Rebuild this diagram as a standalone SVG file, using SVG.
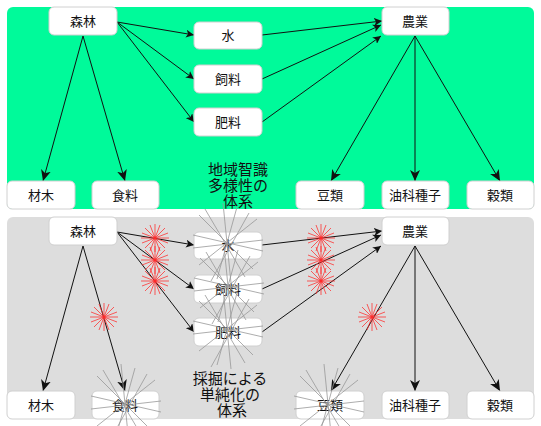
<svg xmlns="http://www.w3.org/2000/svg" xmlns:xlink="http://www.w3.org/1999/xlink" width="541" height="426" viewBox="0 0 541 426">
<style>
.node rect{fill:#fff;stroke:#d0d0d0;stroke-width:1}
.node text,.lbl{font-family:"Noto Sans CJK JP","Noto Sans",sans-serif;text-anchor:middle;fill:#111}
.node text{font-size:13px}
.lbl{font-size:15px}
.edge{stroke:#111;stroke-width:1;fill:none}
.edge.big{marker-end:url(#ab)}
.edge.sm{marker-end:url(#as)}
.red{stroke:#ff2a2a;stroke-width:1;opacity:.75;fill:none}
.gray{stroke:#999;stroke-width:1;opacity:.8;fill:none}
</style>
<defs>
<marker id="ab" markerUnits="userSpaceOnUse" markerWidth="12" markerHeight="10" viewBox="0 0 12 10" refX="11" refY="5" orient="auto"><path d="M0,0 L11,5 L0,10 L3,5 z" fill="#111"/></marker>
<marker id="as" markerUnits="userSpaceOnUse" markerWidth="9" markerHeight="8" viewBox="0 0 9 8" refX="8" refY="4" orient="auto"><path d="M0,0 L8,4 L0,8 L2,4 z" fill="#111"/></marker>
<path id="rb" class="red" d="M0,-14 L0,14 M-14,0 L14,0 M-10,-10 L10,10 M-10,10 L10,-10 M-5,-13 L5,13 M5,-13 L-5,13 M-13,-5 L13,5 M-13,5 L13,-5"/>
<path id="gb" class="gray" d="M-4,-40 L4,40 M10,-36 L-10,36 M-28,-28 L26,26 M30,-24 L-28,22 M-34,-8 L36,8 M36,-3 L-34,5 M-22,-34 L18,34 M22,-30 L-16,38"/>
</defs>
<rect x="7" y="7" width="527" height="202" rx="6" fill="#00fa9a"/>
<rect x="7" y="217" width="527" height="202" rx="6" fill="#dddddd"/>

<g id="connectors">
<line class="edge sm" x1="117" y1="22" x2="194" y2="35"/>
<line class="edge sm" x1="117" y1="22" x2="194" y2="79"/>
<line class="edge sm" x1="117" y1="22" x2="194" y2="122"/>
<line class="edge big" x1="83" y1="36" x2="43" y2="181"/>
<line class="edge big" x1="83" y1="36" x2="125" y2="181"/>
<line class="edge sm" x1="262" y1="35" x2="382" y2="21"/>
<line class="edge sm" x1="262" y1="79" x2="381" y2="25"/>
<line class="edge sm" x1="262" y1="122" x2="381" y2="36"/>
<line class="edge big" x1="415" y1="36" x2="331" y2="181"/>
<line class="edge big" x1="415" y1="36" x2="415" y2="181"/>
<line class="edge big" x1="415" y1="36" x2="500" y2="181"/>

<line class="edge sm" x1="117" y1="232" x2="194" y2="245"/>
<line class="edge sm" x1="117" y1="232" x2="194" y2="289"/>
<line class="edge sm" x1="117" y1="232" x2="194" y2="332"/>
<line class="edge big" x1="83" y1="246" x2="43" y2="391"/>
<line class="edge big" x1="83" y1="246" x2="125" y2="391"/>
<line class="edge sm" x1="262" y1="245" x2="382" y2="231"/>
<line class="edge sm" x1="262" y1="289" x2="381" y2="235"/>
<line class="edge sm" x1="262" y1="332" x2="381" y2="246"/>
<line class="edge big" x1="415" y1="246" x2="331" y2="391"/>
<line class="edge big" x1="415" y1="246" x2="415" y2="391"/>
<line class="edge big" x1="415" y1="246" x2="500" y2="391"/>
</g>

<g id="n-forest"><g class="node"><rect x="49" y="7" width="68" height="28" rx="5"/><text x="83" y="26">森林</text></g></g>
<g id="n-water"><g class="node"><rect x="194" y="22" width="68" height="27" rx="5"/><text x="228" y="40">水</text></g></g>
<g id="n-feed"><g class="node"><rect x="194" y="65" width="68" height="28" rx="5"/><text x="228" y="84">飼料</text></g></g>
<g id="n-fert"><g class="node"><rect x="194" y="108" width="68" height="28" rx="5"/><text x="228" y="127">肥料</text></g></g>
<g id="n-timber"><g class="node"><rect x="7" y="181" width="68" height="28" rx="5"/><text x="41" y="200">材木</text></g></g>
<g id="n-food"><g class="node"><rect x="92" y="181" width="67" height="28" rx="5"/><text x="125" y="200">食料</text></g></g>
<g id="n-agri"><g class="node"><rect x="382" y="7" width="67" height="28" rx="5"/><text x="415" y="26">農業</text></g></g>
<g id="n-beans"><g class="node"><rect x="296" y="181" width="68" height="28" rx="5"/><text x="330" y="200">豆類</text></g></g>
<g id="n-oil"><g class="node"><rect x="382" y="181" width="67" height="28" rx="5"/><text x="415" y="200">油科種子</text></g></g>
<g id="n-grain"><g class="node"><rect x="467" y="181" width="67" height="28" rx="5"/><text x="500" y="200">穀類</text></g></g>
<g id="l-top"><text class="lbl" x="238" y="175">地域智識</text><text class="lbl" x="238" y="191">多様性の</text><text class="lbl" x="238" y="207">体系</text></g>

<g id="n-forest2"><g class="node"><rect x="49" y="217" width="68" height="28" rx="5"/><text x="83" y="236">森林</text></g></g>
<g id="n-water2"><g class="node"><rect x="194" y="232" width="68" height="27" rx="5"/><text x="228" y="250">水</text></g></g>
<g id="n-feed2"><g class="node"><rect x="194" y="275" width="68" height="28" rx="5"/><text x="228" y="294">飼料</text></g></g>
<g id="n-fert2"><g class="node"><rect x="194" y="318" width="68" height="28" rx="5"/><text x="228" y="337">肥料</text></g></g>
<g id="n-timber2"><g class="node"><rect x="7" y="391" width="68" height="28" rx="5"/><text x="41" y="410">材木</text></g></g>
<g id="n-food2"><g class="node"><rect x="92" y="391" width="67" height="28" rx="5"/><text x="125" y="410">食料</text></g></g>
<g id="n-agri2"><g class="node"><rect x="382" y="217" width="67" height="28" rx="5"/><text x="415" y="236">農業</text></g></g>
<g id="n-beans2"><g class="node"><rect x="296" y="391" width="68" height="28" rx="5"/><text x="330" y="410">豆類</text></g></g>
<g id="n-oil2"><g class="node"><rect x="382" y="391" width="67" height="28" rx="5"/><text x="415" y="410">油科種子</text></g></g>
<g id="n-grain2"><g class="node"><rect x="467" y="391" width="67" height="28" rx="5"/><text x="500" y="410">穀類</text></g></g>
<g id="l-bottom"><text class="lbl" x="230" y="384">採掘による</text><text class="lbl" x="230" y="400">単純化の</text><text class="lbl" x="232" y="416">体系</text></g>

<g id="bursts">
<use xlink:href="#rb" href="#rb" x="155" y="238"/>
<use xlink:href="#rb" href="#rb" x="155" y="260"/>
<use xlink:href="#rb" href="#rb" x="155" y="281"/>
<use xlink:href="#rb" href="#rb" x="104" y="317"/>
<use xlink:href="#rb" href="#rb" x="321" y="238"/>
<use xlink:href="#rb" href="#rb" x="321" y="260"/>
<use xlink:href="#rb" href="#rb" x="321" y="281"/>
<use xlink:href="#rb" href="#rb" x="372" y="317"/>
<use xlink:href="#gb" href="#gb" x="227" y="243"/>
<use xlink:href="#gb" href="#gb" x="228" y="286"/>
<use xlink:href="#gb" href="#gb" x="227" y="329"/>
<use xlink:href="#gb" href="#gb" x="125" y="404"/>
<use xlink:href="#gb" href="#gb" x="328" y="404"/>
</g>
</svg>
